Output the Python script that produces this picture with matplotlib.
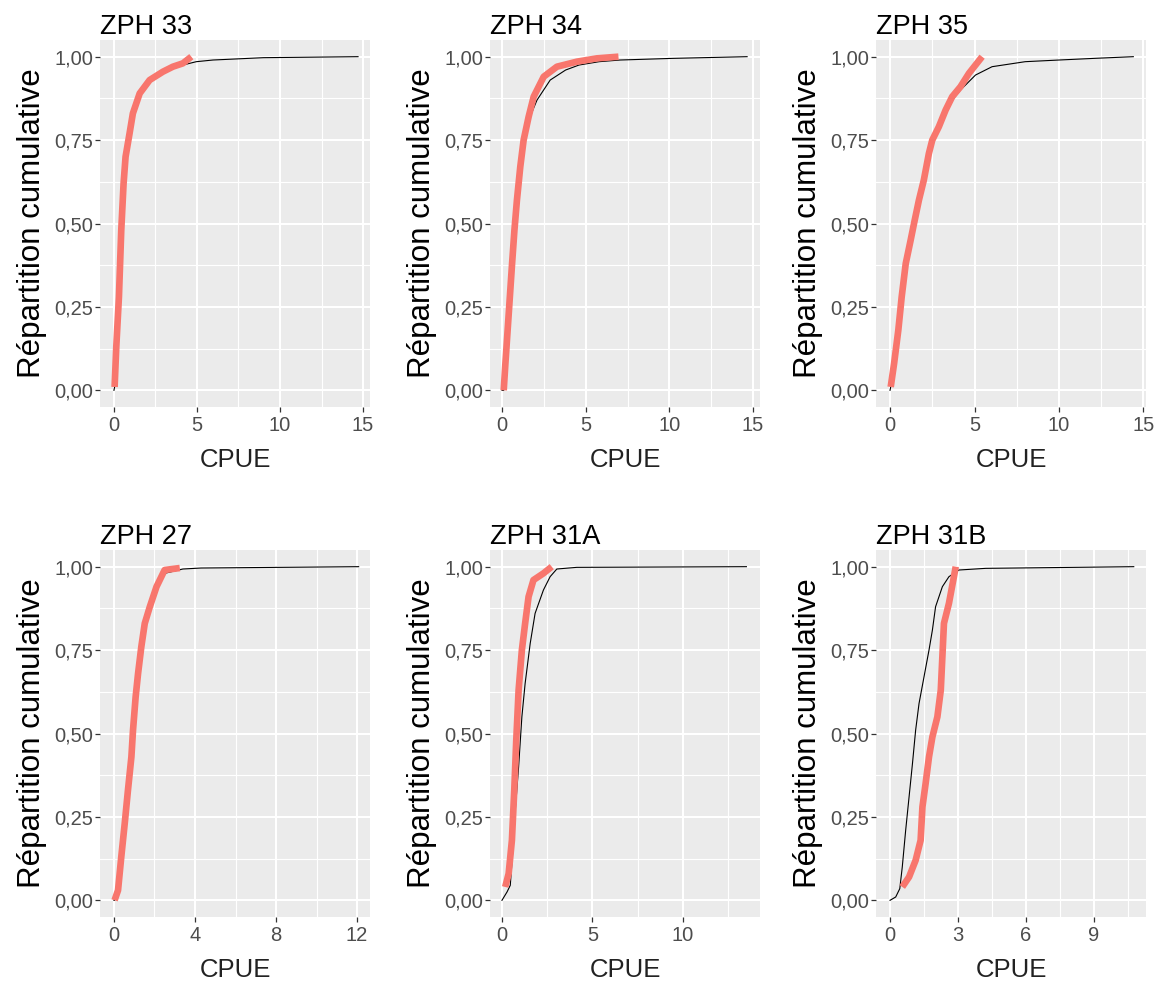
import matplotlib
matplotlib.use("Agg")
import matplotlib.pyplot as plt
from matplotlib.ticker import FixedLocator, FuncFormatter

plt.rcParams['font.family'] = ['Liberation Sans', 'DejaVu Sans']

RED = '#F8766D'
PANEL_BG = '#EBEBEB'
TICK_GREY = '#4D4D4D'

# ---- ZPH 33 ----
zph33_all_x = [0.0, 0.04, 0.14, 0.30, 0.44, 0.58, 0.70, 0.94, 1.14, 1.55, 2.15, 2.95, 3.55, 4.15, 4.96, 5.96, 9.0, 14.7]
zph33_all_y = [0.0, 0.01, 0.13, 0.28, 0.48, 0.62, 0.70, 0.77, 0.83, 0.885, 0.925, 0.95, 0.965, 0.975, 0.985, 0.99, 0.997, 1.0]
zph33_sub_x = [0.04, 0.14, 0.30, 0.44, 0.58, 0.70, 0.94, 1.14, 1.55, 2.15, 2.95, 3.55, 4.15, 4.66]
zph33_sub_y = [0.01, 0.13, 0.28, 0.48, 0.62, 0.70, 0.77, 0.83, 0.89, 0.93, 0.955, 0.97, 0.98, 1.0]

# ---- ZPH 34 ----
zph34_all_x = [0.0, 0.10, 0.20, 0.40, 0.60, 0.74, 0.89, 1.09, 1.29, 1.59, 2.09, 2.88, 3.8, 4.6, 5.8, 7.06, 10.24, 14.65]
zph34_all_y = [0.0, 0.0, 0.08, 0.23, 0.38, 0.48, 0.57, 0.67, 0.74, 0.81, 0.87, 0.93, 0.96, 0.975, 0.985, 0.99, 0.995, 1.0]
zph34_sub_x = [0.10, 0.20, 0.40, 0.60, 0.74, 0.89, 1.09, 1.29, 1.59, 1.89, 2.49, 3.28, 4.47, 5.67, 6.96]
zph34_sub_y = [0.0, 0.08, 0.23, 0.38, 0.48, 0.57, 0.67, 0.75, 0.82, 0.88, 0.94, 0.97, 0.985, 0.995, 1.0]

# ---- ZPH 35 ----
zph35_all_x = [0.0, 0.04, 0.24, 0.49, 0.69, 0.93, 1.22, 1.42, 1.71, 2.0, 2.3, 2.5, 2.89, 3.29, 3.68, 4.17, 5.06, 6.04, 8.0, 10.0, 12.1, 14.4]
zph35_all_y = [0.0, 0.01, 0.08, 0.18, 0.28, 0.38, 0.45, 0.50, 0.57, 0.63, 0.71, 0.74, 0.78, 0.83, 0.87, 0.90, 0.945, 0.97, 0.985, 0.99, 0.995, 1.0]
zph35_sub_x = [0.04, 0.24, 0.49, 0.69, 0.93, 1.22, 1.42, 1.71, 2.0, 2.3, 2.5, 2.89, 3.29, 3.68, 4.17, 4.67, 5.45]
zph35_sub_y = [0.01, 0.08, 0.18, 0.28, 0.38, 0.45, 0.50, 0.57, 0.63, 0.71, 0.75, 0.79, 0.84, 0.88, 0.91, 0.95, 1.0]

# ---- ZPH 27 ----
zph27_all_x = [0.0, 0.03, 0.20, 0.36, 0.53, 0.69, 0.86, 0.94, 1.07, 1.19, 1.35, 1.52, 1.77, 2.1, 2.5, 3.4, 4.3, 12.08]
zph27_all_y = [0.0, 0.0, 0.03, 0.13, 0.23, 0.33, 0.43, 0.51, 0.61, 0.68, 0.76, 0.83, 0.88, 0.94, 0.98, 0.993, 0.996, 1.0]
zph27_sub_x = [0.03, 0.20, 0.36, 0.53, 0.69, 0.86, 0.94, 1.07, 1.19, 1.35, 1.52, 1.77, 2.1, 2.5, 3.25]
zph27_sub_y = [0.0, 0.03, 0.13, 0.23, 0.33, 0.43, 0.51, 0.61, 0.68, 0.76, 0.83, 0.88, 0.94, 0.99, 0.996]

# ---- ZPH 31A ----
zph31a_all_x = [0.0, 0.28, 0.46, 0.60, 0.75, 0.92, 1.10, 1.28, 1.56, 1.83, 2.29, 2.66, 3.03, 4.13, 13.5]
zph31a_all_y = [0.0, 0.025, 0.045, 0.15, 0.28, 0.40, 0.55, 0.65, 0.77, 0.86, 0.93, 0.97, 0.993, 0.998, 1.0]
zph31a_sub_x = [0.18, 0.37, 0.55, 0.68, 0.79, 0.92, 1.10, 1.28, 1.47, 1.74, 2.29, 2.75]
zph31a_sub_y = [0.04, 0.08, 0.18, 0.33, 0.48, 0.63, 0.75, 0.83, 0.91, 0.96, 0.98, 1.0]

# ---- ZPH 31B ----
zph31b_all_x = [0.0, 0.25, 0.43, 0.54, 0.69, 0.84, 0.99, 1.13, 1.28, 1.50, 1.72, 1.87, 2.01, 2.31, 2.60, 3.04, 4.22, 10.76]
zph31b_all_y = [0.0, 0.01, 0.035, 0.10, 0.21, 0.31, 0.41, 0.51, 0.59, 0.67, 0.75, 0.81, 0.88, 0.94, 0.97, 0.99, 0.995, 1.0]
zph31b_sub_x = [0.54, 0.84, 1.13, 1.35, 1.43, 1.57, 1.72, 1.87, 2.09, 2.24, 2.31, 2.38, 2.60, 2.82, 2.90]
zph31b_sub_y = [0.04, 0.07, 0.12, 0.18, 0.28, 0.35, 0.43, 0.49, 0.55, 0.63, 0.73, 0.83, 0.89, 0.97, 1.0]

panels = [
    ("ZPH 33", zph33_all_x, zph33_all_y, zph33_sub_x, zph33_sub_y, [0, 5, 10, 15], (-0.84, 15.42)),
    ("ZPH 34", zph34_all_x, zph34_all_y, zph34_sub_x, zph34_sub_y, [0, 5, 10, 15], (-0.72, 15.42)),
    ("ZPH 35", zph35_all_x, zph35_all_y, zph35_sub_x, zph35_sub_y, [0, 5, 10, 15], (-0.83, 15.15)),
    ("ZPH 27", zph27_all_x, zph27_all_y, zph27_sub_x, zph27_sub_y, [0, 4, 8, 12], (-0.69, 12.64)),
    ("ZPH 31A", zph31a_all_x, zph31a_all_y, zph31a_sub_x, zph31a_sub_y, [0, 5, 10], (-0.66, 14.25)),
    ("ZPH 31B", zph31b_all_x, zph31b_all_y, zph31b_sub_x, zph31b_sub_y, [0, 3, 6, 9], (-0.62, 11.3)),
]

y_ticks = [0.0, 0.25, 0.5, 0.75, 1.0]

W, H = 1166, 986
fig = plt.figure(figsize=(W / 100, H / 100), dpi=100)
fig.patch.set_facecolor('white')

col_left = [100, 490, 876]
row_top = [40, 550]
ax_w, ax_h = 270, 367

for i, (title, ax_x, ax_y, sx, sy, xt, xlim) in enumerate(panels):
    r, c = divmod(i, 3)
    left = col_left[c] / W
    bottom = 1 - (row_top[r] + ax_h) / H
    ax = fig.add_axes([left, bottom, ax_w / W, ax_h / H])
    ax.set_facecolor(PANEL_BG)
    for s in ax.spines.values():
        s.set_visible(False)

    step = xt[1] - xt[0]
    minor_x = [t + step / 2 for t in [xt[0] - step] + xt]
    ax.xaxis.set_major_locator(FixedLocator(xt))
    ax.xaxis.set_minor_locator(FixedLocator(minor_x))
    ax.yaxis.set_major_locator(FixedLocator(y_ticks))
    ax.yaxis.set_minor_locator(FixedLocator([0.125, 0.375, 0.625, 0.875]))
    ax.yaxis.set_major_formatter(FuncFormatter(lambda v, p: f"{v:.2f}".replace('.', ',')))
    ax.xaxis.set_major_formatter(FuncFormatter(lambda v, p: f"{v:g}"))

    ax.grid(which='major', color='white', linewidth=1.5)
    ax.grid(which='minor', color='white', linewidth=0.8)
    ax.set_axisbelow(True)

    ax.tick_params(which='major', length=3.5, width=0.9, color='#333333',
                   labelsize=14.5, labelcolor=TICK_GREY)
    ax.tick_params(axis='x', which='major', pad=3)
    ax.tick_params(axis='y', which='major', pad=1.5)
    ax.tick_params(which='minor', length=0)

    # full-sample ECDF (thin black) underneath the sub-sample ECDF (thick red)
    ax.plot(ax_x, ax_y, color='black', linewidth=0.8, zorder=2)
    ax.plot(sx, sy, color=RED, linewidth=4.8, solid_capstyle='butt',
            solid_joinstyle='round', zorder=3)

    ax.set_xlim(*xlim)
    ax.set_ylim(-0.05, 1.05)

    ax.set_xlabel("CPUE", fontsize=18.5, color='#222222', labelpad=9)
    ax.set_ylabel("Répartition cumulative", fontsize=22.5, color='black', labelpad=5)
    ax.set_title(title, loc='left', fontsize=19.5, color='black', pad=3)

fig.savefig("out.png", dpi=100, facecolor='white')
